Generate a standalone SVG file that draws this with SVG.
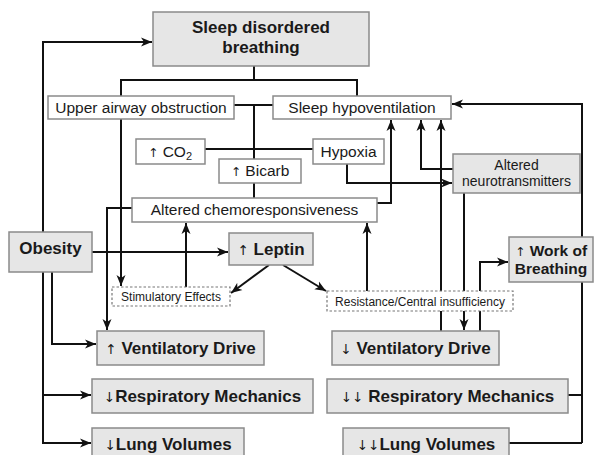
<svg xmlns="http://www.w3.org/2000/svg" width="603" height="455" viewBox="0 0 603 455">
<style>
.g{fill:#e6e6e6;stroke:#8a8a8a;stroke-width:1.5}
.w{fill:#fff;stroke:#8a8a8a;stroke-width:1.5}
.d{fill:#fff;stroke:#777;stroke-width:1.2;stroke-dasharray:2.5,2}
.c{fill:none;stroke:#111;stroke-width:2}
.a{marker-end:url(#ah)}
text{font-family:"Liberation Sans",Arial,sans-serif;fill:#1a1a1a;text-anchor:middle}
.b{font-weight:bold;font-size:17px}
.bw{font-weight:bold;font-size:15.5px}
.r{font-size:15.5px}
.n{font-size:14px}
.s{font-size:12px}
.ar{font-family:"DejaVu Sans",sans-serif;font-weight:normal;font-size:0.8em;fill:#1a1a1a}
</style>
<defs>
<marker id="ah" markerUnits="userSpaceOnUse" markerWidth="12" markerHeight="10" refX="11" refY="5" orient="auto">
<path d="M0,0.5 L11,5 L0,9.5 L3,5 z" fill="#111"/>
</marker>
</defs>
<rect width="603" height="455" fill="#fff"/>
<g id="connectors">
<path class="c" d="M254,66 V80"/>
<path class="c" d="M121,96 V80 H357 V96"/>
<path class="c" d="M234,105 H273"/>
<path class="c" d="M254,105 V159"/>
<path class="c" d="M205,149 H313"/>
<path class="c" d="M254,183 V198"/>
<path class="c a" d="M377,203 H391 V120"/>
<path class="c a" d="M347,164 V183 H452"/>
<path class="c a" d="M453,169 H421 V120"/>
<path class="c a" d="M441,331 V120"/>
<path class="c a" d="M464,193 V330"/>
<path class="c a" d="M480,331 V262 H508"/>
<path class="c" d="M568,395 H582"/>
<path class="c" d="M509,443 H582"/>
<path class="c a" d="M582,443 V104 H452"/>
<path class="c a" d="M43,232 V42 H152"/>
<path class="c a" d="M43,272 V443 H91"/>
<path class="c a" d="M43,395 H91"/>
<path class="c a" d="M52,272 V344 H96"/>
<path class="c a" d="M92,252 H228"/>
<path class="c a" d="M132,208 H107 V330"/>
<path class="c a" d="M121,119 V286"/>
<path class="c a" d="M186,287 V223"/>
<path class="c a" d="M367,291 V223"/>
<path class="c a" d="M269,265 L231,293"/>
<path class="c a" d="M283,265 L326,291"/>
</g>
<g id="sdb"><rect class="g" x="153" y="12" width="216" height="54"/><text class="b" x="261" y="33">Sleep disordered</text><text class="b" x="261" y="53">breathing</text></g>
<g id="upper"><rect class="w" x="48" y="96" width="186" height="23"/><text class="r" x="141" y="113">Upper airway obstruction</text></g>
<g id="hypovent"><rect class="w" x="273" y="96" width="178" height="23"/><text class="r" x="362" y="113">Sleep hypoventilation</text></g>
<g id="co2"><rect class="w" x="136" y="139" width="69" height="25"/><text class="r" x="170" y="157"><tspan class="ar">↑</tspan> CO<tspan font-size="11" dy="3">2</tspan></text></g>
<g id="hypoxia"><rect class="w" x="313" y="139" width="71" height="25"/><text class="r" x="348.5" y="157">Hypoxia</text></g>
<g id="bicarb"><rect class="w" x="219" y="159" width="82" height="24"/><text class="r" x="260" y="176"><tspan class="ar">↑</tspan> Bicarb</text></g>
<g id="chemo"><rect class="w" x="132" y="198" width="245" height="24"/><text class="r" x="254.5" y="215">Altered chemoresponsiveness</text></g>
<g id="neuro"><rect class="g" x="453" y="154" width="127" height="39"/><text class="n" x="516.5" y="170">Altered</text><text class="n" x="516.5" y="186">neurotransmitters</text></g>
<g id="obesity"><rect class="g" x="9" y="232" width="83" height="40"/><text class="b" x="50.5" y="254">Obesity</text></g>
<g id="leptin"><rect class="g" x="229" y="233" width="84" height="32"/><text class="b" x="271" y="255"><tspan class="ar">↑</tspan> Leptin</text></g>
<g id="wob"><rect class="g" x="509" y="237" width="84" height="45"/><text class="bw" x="551" y="256"><tspan class="ar">↑</tspan> Work of</text><text class="bw" x="551" y="274">Breathing</text></g>
<g id="stim"><rect class="d" x="112" y="287" width="118" height="19"/><text class="s" x="171" y="301">Stimulatory Effects</text></g>
<g id="resist"><rect class="d" x="327" y="291" width="186" height="20"/><text class="s" x="420" y="306">Resistance/Central insufficiency</text></g>
<g id="upvd"><rect class="g" x="97" y="331" width="167" height="34"/><text class="b" x="180.5" y="354"><tspan class="ar">↑</tspan> Ventilatory Drive</text></g>
<g id="downvd"><rect class="g" x="332" y="331" width="167" height="34"/><text class="b" x="415.5" y="354"><tspan class="ar">↓</tspan> Ventilatory Drive</text></g>
<g id="rmleft"><rect class="g" x="92" y="379" width="221" height="34"/><text class="b" x="202.5" y="402"><tspan class="ar">↓</tspan>Respiratory Mechanics</text></g>
<g id="rmright"><rect class="g" x="327" y="379" width="241" height="34"/><text class="b" x="447.5" y="402"><tspan class="ar">↓↓</tspan> Respiratory Mechanics</text></g>
<g id="lvleft"><rect class="g" x="92" y="428" width="152" height="34"/><text class="b" x="168" y="450"><tspan class="ar">↓</tspan>Lung Volumes</text></g>
<g id="lvright"><rect class="g" x="343" y="428" width="166" height="34"/><text class="b" x="426" y="450"><tspan class="ar">↓↓</tspan>Lung Volumes</text></g>
</svg>
